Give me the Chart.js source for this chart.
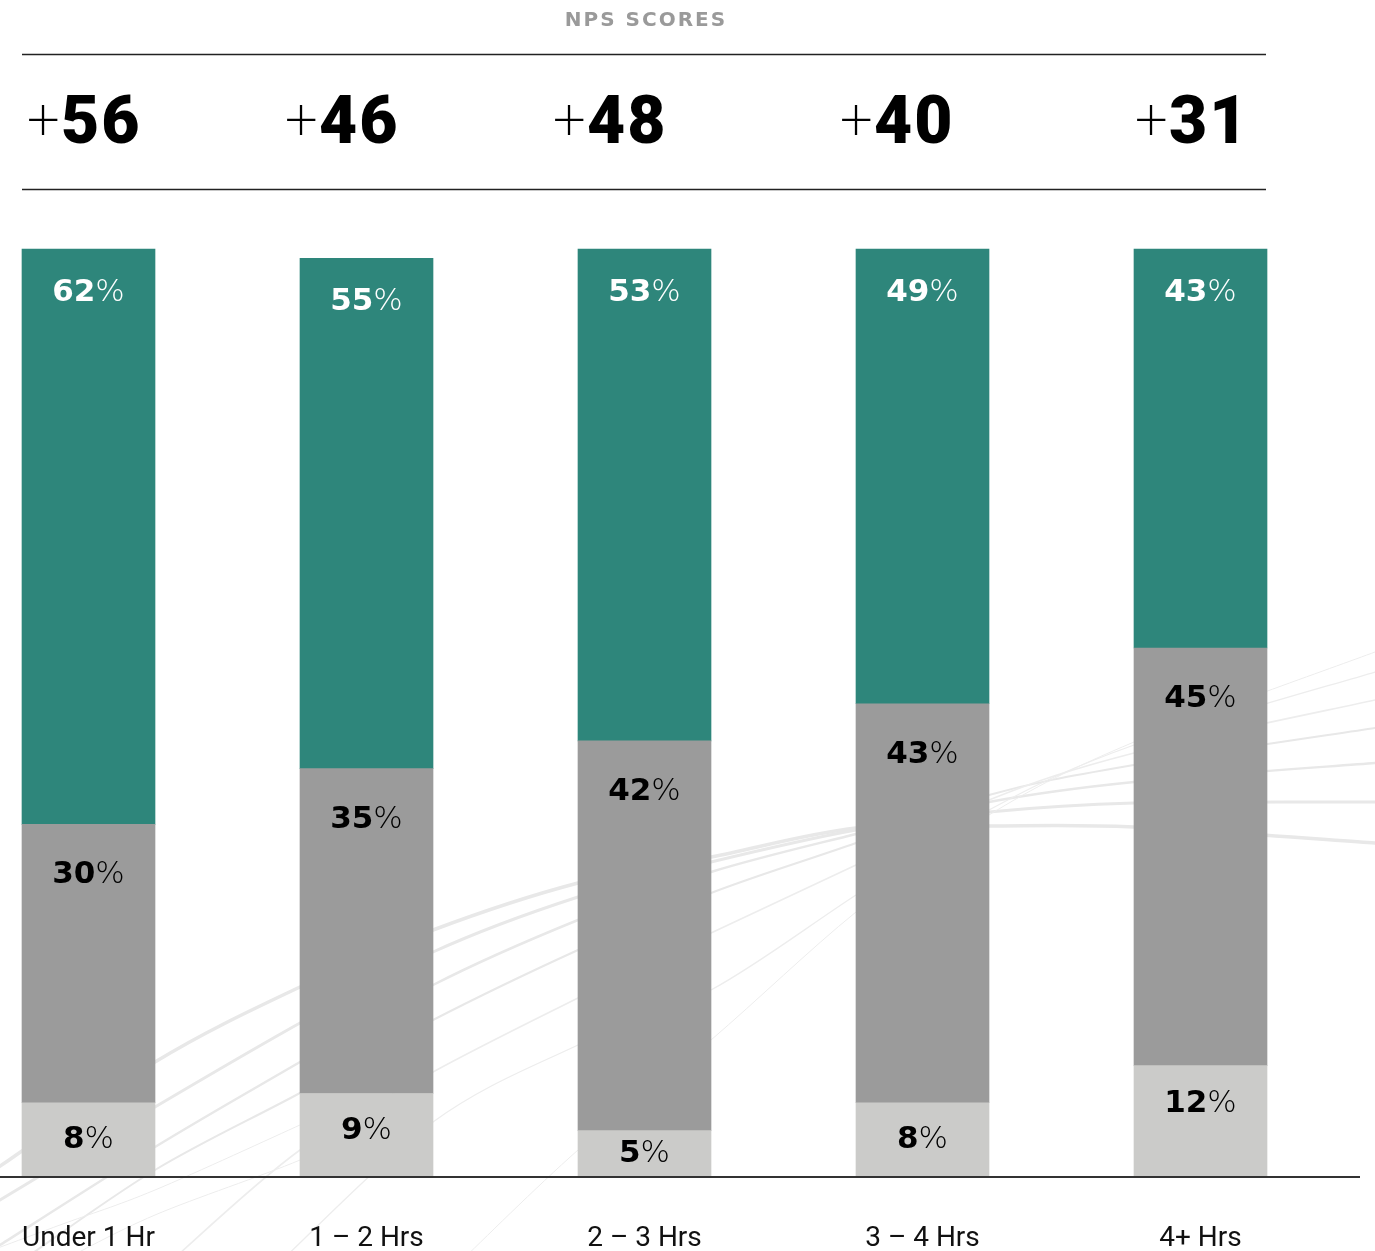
<!DOCTYPE html>
<html>
<head>
<meta charset="utf-8">
<title>NPS Scores by Session Length</title>
<script src="https://cdn.jsdelivr.net/npm/chart.js@4.4.1/dist/chart.umd.min.js"></script>
<style>
  html, body { margin: 0; padding: 0; background: #ffffff; }
  #wrap { position: relative; width: 1375px; height: 1251px; }
  canvas { display: block; }
</style>
</head>
<body>
<div id="wrap"><canvas id="nps" width="1375" height="1251"></canvas></div>
<script>
// ---- data ----
const categories = ['Under 1 Hr', '1 – 2 Hrs', '2 – 3 Hrs', '3 – 4 Hrs', '4+ Hrs'];
const promoters  = [62, 55, 53, 49, 43];
const passives   = [30, 35, 42, 43, 45];
const detractors = [8, 9, 5, 8, 12];
const npsScores  = [56, 46, 48, 40, 31];
const headerTitle = 'NPS SCORES';

// ---- layout / style ----
const COLORS = { promoter: '#2E867B', passive: '#9B9B9B', detractor: '#CBCBC9' };
const npsAnchorX = [30, 288, 556, 843, 1138];   // left edge of each "+NN" score
const FONT_PCT_NUM = 'bold 31px "DejaVu Sans"';
const FONT_PCT_SIGN = '200 31px "DejaVu Sans"';

// decorative background swooshes: width, then a run of points smoothed into a curve
const swooshes = [
  [3.5, [[-20,1180],[155,1062],[300,987],[433,930],[578,883],[711,857],[856,828],[989,826],[1134,827],[1375,843]]],
  [3,   [[0,1200],[155,1107],[300,1023],[433,952],[578,897],[711,862],[856,830],[989,812],[1134,803],[1375,802]]],
  [2.5, [[0,1245],[155,1147],[300,1062],[433,985],[578,920],[711,872],[856,834],[989,802],[1134,782],[1375,763]]],
  [2,   [[20,1262],[155,1170],[300,1093],[433,1020],[578,950],[711,893],[856,843],[989,795],[1134,765],[1375,728]]],
  [1.6, [[170,1262],[300,1150],[433,1072],[578,998],[711,933],[856,865],[989,800],[1134,753],[1375,700]]],
  [1.3, [[280,1262],[433,1122],[578,1045],[711,990],[856,895],[989,810],[1134,745],[1375,672]]],
  [1,   [[460,1262],[578,1150],[711,1040],[856,912],[989,815],[1134,742],[1375,652]]],
  [1,   [[-40,1262],[60,1225],[155,1190],[300,1125]]],
  [1,   [[60,1262],[155,1215],[300,1160],[380,1120]]]
];

function strokeSmooth(ctx, pts) {
  ctx.beginPath();
  ctx.moveTo(pts[0][0], pts[0][1]);
  for (let i = 0; i < pts.length - 1; i++) {
    const p0 = pts[Math.max(0, i - 1)], p1 = pts[i], p2 = pts[i + 1], p3 = pts[Math.min(pts.length - 1, i + 2)];
    const c1x = p1[0] + (p2[0] - p0[0]) / 6, c1y = p1[1] + (p2[1] - p0[1]) / 6;
    const c2x = p2[0] - (p3[0] - p1[0]) / 6, c2y = p2[1] - (p3[1] - p1[1]) / 6;
    ctx.bezierCurveTo(c1x, c1y, c2x, c2y, p2[0], p2[1]);
  }
  ctx.stroke();
}

const backdrop = {
  id: 'backdrop',
  beforeDraw(chart) {
    const ctx = chart.ctx;
    ctx.save();
    ctx.lineCap = 'round';
    ctx.lineJoin = 'round';
    swooshes.forEach(([w, pts]) => {
      ctx.strokeStyle = w >= 2 ? '#E8E8E8' : '#EDEDED';
      ctx.lineWidth = w;
      strokeSmooth(ctx, pts);
    });
    ctx.restore();
  }
};

const header = {
  id: 'header',
  afterDraw(chart) {
    const ctx = chart.ctx;
    ctx.save();
    // title
    ctx.fillStyle = '#9A9A9A';
    ctx.font = 'bold 20px "DejaVu Sans"';
    ctx.letterSpacing = '2px';
    ctx.textAlign = 'center';
    ctx.textBaseline = 'alphabetic';
    ctx.fillText(headerTitle, 646, 26);
    // rules
    ctx.strokeStyle = '#222';
    ctx.lineWidth = 1.5;
    ctx.beginPath();
    ctx.moveTo(22, 54.5); ctx.lineTo(1266, 54.5);
    ctx.moveTo(22, 189.5); ctx.lineTo(1266, 189.5);
    ctx.stroke();
    // scores
    ctx.textAlign = 'left';
    ctx.fillStyle = '#000';
    npsScores.forEach((v, i) => {
      const x = npsAnchorX[i];
      ctx.letterSpacing = '0px';
      ctx.font = '200 58px Roboto';
      ctx.fillText('+', x - 3, 139);
      ctx.letterSpacing = '2px';
      ctx.font = '900 66px Roboto';
      ctx.fillText(String(v), x + 31, 143);
    });
    ctx.letterSpacing = '0px';
    // baseline under the bars
    ctx.strokeStyle = '#333';
    ctx.lineWidth = 2;
    const yb = chart.scales.y.getPixelForValue(0);
    ctx.beginPath();
    ctx.moveTo(0, yb); ctx.lineTo(1360, yb);
    ctx.stroke();
    ctx.restore();
  }
};

const segmentLabels = {
  id: 'segmentLabels',
  afterDatasetsDraw(chart) {
    const ctx = chart.ctx;
    ctx.save();
    ctx.textBaseline = 'alphabetic';
    ctx.textAlign = 'left';
    chart.data.datasets.forEach((ds, di) => {
      const meta = chart.getDatasetMeta(di);
      meta.data.forEach((bar, i) => {
        const v = ds.data[i];
        const top = Math.min(bar.y, bar.base);
        const h = Math.abs(bar.base - bar.y);
        let baseY;
        if (ds.segment === 'promoter') baseY = top + 52;
        else if (ds.segment === 'passive') baseY = top + 59;
        else baseY = top + Math.min(46, h / 2 + 8);
        ctx.font = FONT_PCT_NUM;
        const nw = ctx.measureText(String(v)).width;
        ctx.font = FONT_PCT_SIGN;
        const sw = ctx.measureText('%').width;
        const x0 = bar.x - (nw + sw) / 2;
        ctx.fillStyle = ds.segment === 'promoter' ? '#FFFFFF' : '#000000';
        ctx.font = FONT_PCT_NUM;
        ctx.fillText(String(v), x0, baseY);
        ctx.font = FONT_PCT_SIGN;
        ctx.fillText('%', x0 + nw, baseY);
      });
    });
    ctx.restore();
  }
};

new Chart(document.getElementById('nps'), {
  type: 'bar',
  data: {
    labels: categories,
    datasets: [
      { label: 'Detractors', segment: 'detractor', data: detractors, backgroundColor: COLORS.detractor },
      { label: 'Passives',   segment: 'passive',   data: passives,   backgroundColor: COLORS.passive },
      { label: 'Promoters',  segment: 'promoter',  data: promoters,  backgroundColor: COLORS.promoter }
    ]
  },
  options: {
    responsive: false,
    animation: false,
    events: [],
    layout: { padding: { left: 88.5, right: 174.5, top: 249, bottom: 0 } },
    datasets: { bar: { barThickness: 133, borderWidth: 0, borderSkipped: false, clip: false } },
    plugins: { legend: { display: false }, tooltip: { enabled: false }, title: { display: false } },
    scales: {
      x: {
        stacked: true,
        offset: false,
        grid: { display: false },
        border: { display: false },
        ticks: {
          color: '#111',
          font: { family: 'Roboto', size: 28, weight: '400' },
          padding: 37,
          maxRotation: 0,
          autoSkip: false
        },
        afterFit(scale) {
          scale.height = 74;
          scale.paddingLeft = 0;
          scale.paddingRight = 0;
        }
      },
      y: {
        stacked: true,
        display: false,
        min: 0,
        max: 100
      }
    }
  },
  plugins: [backdrop, header, segmentLabels]
});
</script>
</body>
</html>
